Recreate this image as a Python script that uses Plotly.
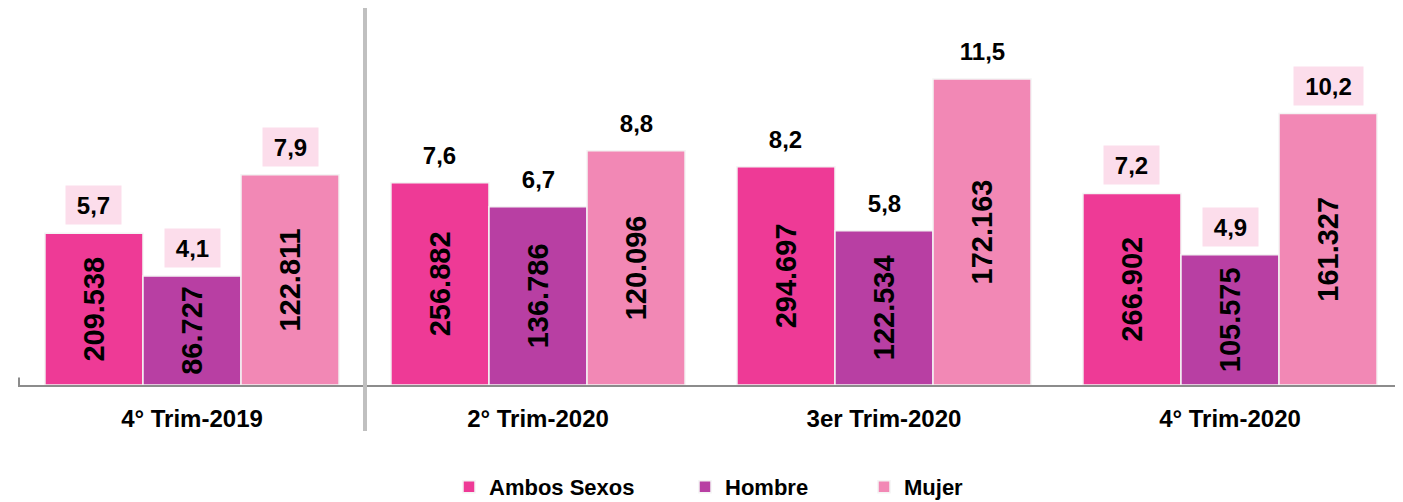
import plotly.graph_objects as go

# Trimestres and series
periodos = ["4° Trim-2019", "2° Trim-2020", "3er Trim-2020", "4° Trim-2020"]
series = ["Ambos Sexos", "Hombre", "Mujer"]
colores = ["#EE3A96", "#B83FA3", "#F288B5"]

# Tasas (%) -> bar height
tasa_ambos = [5.7, 7.6, 8.2, 7.2]
tasa_hombre = [4.1, 6.7, 5.8, 4.9]
tasa_mujer = [7.9, 8.8, 11.5, 10.2]

# Personas -> text inside the bars
pers_ambos = ["209.538", "256.882", "294.697", "266.902"]
pers_hombre = ["86.727", "136.786", "122.534", "105.575"]
pers_mujer = ["122.811", "120.096", "172.163", "161.327"]

# groups whose rate labels get the pink box
resaltados = ["4° Trim-2019", "4° Trim-2020"]

tasas = [tasa_ambos, tasa_hombre, tasa_mujer]
personas = [pers_ambos, pers_hombre, pers_mujer]

FONT = "Arial, Liberation Sans, sans-serif"
BARGAP = 0.15
# the page body has an 8px margin, so the figure is 8px smaller each way
W, H = 1395, 494
ML, MB = 10, 117
legend_x_px = [441, 677, 856]  # left edge of each legend entry (figure px)

fig = go.Figure()

legend_ids = ["legend", "legend2", "legend3"]
for nombre, color, vals, txt, lg in zip(series, colores, tasas, personas, legend_ids):
    fig.add_trace(
        go.Bar(
            x=periodos,
            y=vals,
            name=nombre,
            legend=lg,
            marker=dict(color=color, line=dict(color="#F4F4F4", width=1.5)),
            text=txt,
            textposition="inside",
            insidetextanchor="middle",
            textangle=-90,
            insidetextfont=dict(family=FONT, size=29, color="black", weight="bold"),
            hoverinfo="skip",
        )
    )

# rate labels above each bar
bar_w = (1 - BARGAP) / len(series)
for s, vals in enumerate(tasas):
    offset = (s - (len(series) - 1) / 2) * bar_w
    for i, v in enumerate(vals):
        label = f"{v:.1f}".replace(".", ",")
        box = periodos[i] in resaltados
        fig.add_annotation(
            x=i + offset,
            y=v,
            xref="x",
            yref="y",
            text=label,
            showarrow=False,
            yanchor="middle",
            yshift=28,
            font=dict(family=FONT, size=24, color="black", weight="bold"),
            bgcolor="#FCDDEB" if box else "rgba(0,0,0,0)",
            width=14 * len(label) + 11,
            height=36,
        )

plot_w = W - ML
plot_h = H - MB

# separator between 2019 and 2020
fig.add_shape(
    type="line",
    xref="x",
    yref="paper",
    x0=0.5,
    x1=0.5,
    y0=1.0,
    y1=(plot_h - 423) / plot_h,
    line=dict(color="#C0C0C0", width=4),
)
# small tick at left end of axis
fig.add_shape(
    type="line",
    xref="x",
    yref="paper",
    x0=-0.5,
    x1=-0.5,
    y0=0,
    y1=0.02,
    line=dict(color="#8C8C8C", width=2),
)

legend_style = dict(
    orientation="h",
    xanchor="left",
    y=(plot_h - 479) / plot_h,
    yanchor="middle",
    font=dict(family=FONT, size=22, color="black", weight="bold"),
    itemwidth=30,
    bgcolor="rgba(0,0,0,0)",
)

fig.update_layout(
    width=W,
    height=H,
    margin=dict(l=ML, r=0, t=0, b=MB, autoexpand=False),
    paper_bgcolor="white",
    plot_bgcolor="white",
    barmode="group",
    bargap=BARGAP,
    bargroupgap=0,
    showlegend=True,
    legend=dict(x=(legend_x_px[0] - ML) / plot_w, **legend_style),
    legend2=dict(x=(legend_x_px[1] - ML) / plot_w, **legend_style),
    legend3=dict(x=(legend_x_px[2] - ML) / plot_w, **legend_style),
    xaxis=dict(
        showline=True,
        linecolor="#8C8C8C",
        linewidth=2,
        showgrid=False,
        ticks="",
        ticklabelstandoff=11,
        tickfont=dict(family=FONT, size=24, color="black", weight="bold"),
    ),
    yaxis=dict(
        range=[0, 14.17],
        visible=False,
        showgrid=False,
    ),
)

fig.write_html("out.html")
